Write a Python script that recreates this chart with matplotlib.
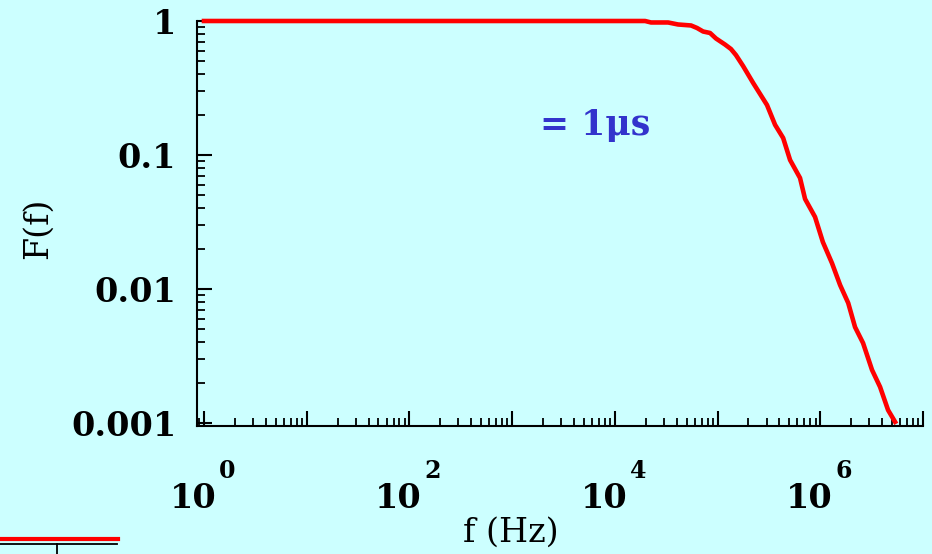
import numpy as np
import matplotlib
matplotlib.use("Agg")
from matplotlib import pyplot as plt
from matplotlib.lines import Line2D
from matplotlib.ticker import LogLocator, NullFormatter

# values
freq = [1.0, 1.97e4, 2.25e4, 3.30e4, 4.12e4, 5.52e4, 6.31e4, 7.23e4, 8.45e4,
        9.66e4, 1.18e5, 1.35e5, 1.51e5, 1.77e5, 2.22e5, 3.03e5, 3.63e5,
        4.35e5, 5.08e5, 6.35e5, 7.11e5, 8.89e5, 1.06e6, 1.30e6, 1.56e6,
        1.87e6, 2.18e6, 2.61e6, 3.19e6, 3.82e6, 4.57e6, 5.35e6]
F = [1.0, 1.0, 0.975, 0.975, 0.942, 0.926, 0.887, 0.835, 0.814,
     0.740, 0.668, 0.618, 0.557, 0.462, 0.345, 0.236, 0.168,
     0.134, 0.0918, 0.0674, 0.0470, 0.0345, 0.0224, 0.0156, 0.0107,
     0.00787, 0.00520, 0.00395, 0.00249, 0.00186, 0.00125, 0.00102]

ytick_vals = [1e-3, 1e-2, 0.1, 1]
ytick_labels = ["0.001", "0.01", "0.1", "1"]
xlabel_exps = [0, 2, 4, 6]

bg = "#ccffff"
serif = "DejaVu Serif"

fig = plt.figure(figsize=(9.32, 5.54), dpi=100, facecolor=bg)
ax = fig.add_axes([197/932, 1-426/554, 726/932, 405/554])
ax.set_facecolor(bg)

ax.plot(freq, F, color="#ff0000", lw=3.3, clip_on=False, zorder=3)

ax.set_xscale("log")
ax.set_yscale("log")
ax.set_xlim(10**-0.068, 1e7)
ax.set_ylim(10**-3.022, 1)

for s in ["top", "right"]:
    ax.spines[s].set_visible(False)
for s in ["left", "bottom"]:
    ax.spines[s].set_linewidth(1.5)

ax.xaxis.set_major_locator(LogLocator(base=10, numticks=20))
ax.xaxis.set_minor_locator(LogLocator(base=10, subs=np.arange(2, 10), numticks=20))
ax.xaxis.set_major_formatter(NullFormatter())
ax.xaxis.set_minor_formatter(NullFormatter())
ax.set_yticks(ytick_vals)
ax.set_yticklabels(ytick_labels)
ax.yaxis.set_minor_locator(LogLocator(base=10, subs=np.arange(2, 10), numticks=20))
ax.yaxis.set_minor_formatter(NullFormatter())

ax.tick_params(which="major", direction="in", length=11, width=1.5)
ax.tick_params(which="minor", direction="in", length=5.5, width=1.3)
ax.tick_params(axis="y", which="major", pad=15, labelsize=24)
for lab in ax.get_yticklabels():
    lab.set_fontfamily(serif)
    lab.set_fontweight("bold")

# x labels as 10 with raised exponent
for e in xlabel_exps:
    ax.annotate("10", xy=(10**e, 0), xycoords=("data", "axes fraction"),
                xytext=(9, -59), textcoords="offset points",
                ha="right", va="baseline", fontsize=24,
                family=serif, weight="bold", annotation_clip=False)
    ax.annotate(str(e), xy=(10**e, 0), xycoords=("data", "axes fraction"),
                xytext=(11, -37.5), textcoords="offset points",
                ha="left", va="baseline", fontsize=17,
                family=serif, weight="bold", annotation_clip=False)

ax.set_xlabel("f (Hz)", fontsize=24, family=serif)
ax.xaxis.set_label_coords(0.4325, -0.225)
ax.set_ylabel("F(f)", fontsize=24, family=serif)
ax.yaxis.set_label_coords(-0.219, 0.489)
ax.yaxis.label.set_va("center")

ax.text(0.472, 0.719, "= 1\u03bcs", transform=ax.transAxes, fontsize=25,
        family=serif, weight="bold", color="#3333cc", ha="left", va="baseline")

# piece of the next panel peeking in at bottom left
fig.add_artist(Line2D([0, 118/932], [1-539/554, 1-539/554], color="#ff0000", lw=3))
fig.add_artist(Line2D([0, 117/932], [1-544/554, 1-544/554], color="black", lw=1.3))
fig.add_artist(Line2D([57/932, 57/932], [1-544/554, 0], color="black", lw=1.3))

fig.savefig("out.png", dpi=100, facecolor=bg)
